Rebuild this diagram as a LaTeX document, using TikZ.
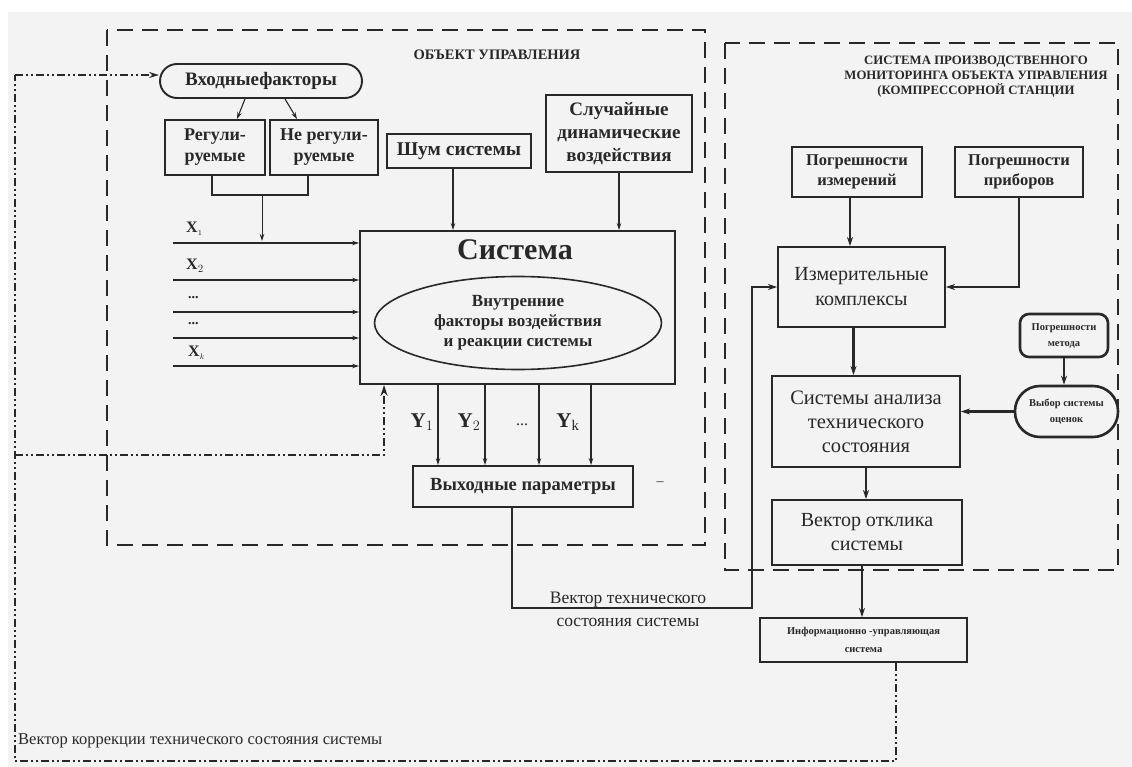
\documentclass[tikz,border=0pt]{standalone}
\usepackage{fontspec}
\setmainfont{Liberation Serif}
\usetikzlibrary{arrows.meta,calc,shapes.geometric}
\newcommand{\fsz}[2]{\fontsize{#1}{#2}\selectfont}
\definecolor{bg}{RGB}{243,243,243}
\definecolor{ink}{RGB}{40,40,40}
\begin{document}
\begin{tikzpicture}[x=1pt,y=-1pt,
  every node/.style={text=ink},
  box/.style={draw=ink, line width=1.9pt, align=center, inner sep=0pt, fill=bg},
  rbox/.style={box, rounded corners=9pt, line width=2.6pt},
  pill/.style={box, rounded corners=17pt},
  grp/.style={draw=ink, line width=2.8pt, dash pattern=on 16pt off 9pt},
  dd/.style={draw=ink, line width=2pt, dash pattern=on 8pt off 3pt on 2pt off 3pt on 2pt off 3pt},
  arr/.style={draw=ink, line width=1.1pt, -{Stealth[length=7pt,width=4.5pt]}},
  tarr/.style={draw=ink, line width=2.2pt, -{Stealth[length=9pt,width=6pt]}},
  lbl/.style={inner sep=0pt, align=center}
]
\useasboundingbox (0,0) rectangle (1132,767);
\fill[white] (0,0) rectangle (1132,767);
\fill[bg] (8,12) rectangle (1132,767);

% group frames
\path[grp] (107,30) rectangle (705,545);
\path[grp] (725,43) rectangle (1118,570);
\node[lbl, font=\bfseries\fsz{14.5}{16}] (t1) at (497,55) {ОБЪЕКТ УПРАВЛЕНИЯ};
\node[lbl, font=\bfseries\fsz{12.8}{15}] (t2) at (976,77) {СИСТЕМА ПРОИЗВОДСТВЕННОГО\\МОНИТОРИНГА ОБЪЕКТА УПРАВЛЕНИЯ\\(КОМПРЕССОРНОЙ СТАНЦИИ};

% left part
\node[pill, minimum width=202pt, minimum height=34pt, font=\bfseries\fsz{19}{22}] (vh) at (261,81) {Входныефакторы};
\node[box, minimum width=100pt, minimum height=55pt, font=\bfseries\fsz{18}{21}] (reg) at (215,147.5) {Регули-\\руемые};
\node[box, minimum width=108pt, minimum height=55pt, font=\bfseries\fsz{18}{21}] (nereg) at (324,147.5) {Не регули-\\руемые};
\node[box, minimum width=144pt, minimum height=34pt, font=\bfseries\fsz{19.5}{22}] (shum) at (459,151) {Шум системы};
\node[box, minimum width=146pt, minimum height=77pt, font=\bfseries\fsz{19}{23}] (sluch) at (619,133.5) {Случайные\\динамические\\воздействия};
\node[box, minimum width=315pt, minimum height=153pt] (sys) at (517.5,307.5) {};
\node[lbl, font=\bfseries\fsz{30}{34}] (systitle) at (515,250) {Система};
\node[draw=ink, line width=1.6pt, ellipse, minimum width=287pt, minimum height=93pt, inner sep=0pt, align=center, font=\bfseries\fsz{17}{20}] (ell) at (518,323) {Внутренние\\факторы воздействия\\и реакции системы};
\node[box, minimum width=220pt, minimum height=41pt, font=\bfseries\fsz{18.5}{21}] (out) at (523,486.5) {Выходные параметры};
\node[lbl, font=\fsz{14}{16}] (dash) at (660,484) {--};

\draw[arr] ([xshift=-16pt]vh.south) -- ([xshift=22pt]reg.north);
\draw[arr] ([xshift=24pt]vh.south) -- ([xshift=-27pt]nereg.north);
\coordinate (b1) at (262,195);
\coordinate (b2) at (262,241);
\draw[draw=ink, line width=1.3pt] ([xshift=-3pt]reg.south) |- (b1) -| ([xshift=-16pt]nereg.south);
\draw[arr, line width=0.8pt] (b1) -- (b2);

\foreach \n/\y in {1/243,2/280,3/312,4/338,5/366}{
  \coordinate (xs\n) at (173,\y);
  \draw[arr] (xs\n) -- (xs\n -| sys.west);
}
\node[lbl, font=\bfseries\fsz{16}{18}, anchor=west] (xl1) at (186,229) {X$_{\scriptscriptstyle 1}$};
\node[lbl, font=\bfseries\fsz{16}{18}, anchor=west] (xl2) at (186,266) {X$_{2}$};
\node[lbl, font=\bfseries\fsz{14}{16}, anchor=west] (xl3) at (188,298) {...};
\node[lbl, font=\bfseries\fsz{14}{16}, anchor=west] (xl4) at (188,324) {...};
\node[lbl, font=\bfseries\fsz{16}{18}, anchor=west] (xl5) at (188,353) {X$_{\scriptscriptstyle k}$};

\draw[arr] ([xshift=-6pt]shum.south) -- ([xshift=-6pt]shum.south |- sys.north);
\draw[arr] (sluch.south) -- (sluch.south |- sys.north);

\foreach \n/\x in {1/438,2/485,3/539,4/591}{
  \coordinate (ys\n) at (\x,384);
  \draw[arr] (ys\n) -- (ys\n |- out.north);
}
\node[lbl, font=\bfseries\fsz{21}{24}] (yl1) at (422,422) {Y$_{1}$};
\node[lbl, font=\bfseries\fsz{21}{24}] (yl2) at (469,422) {Y$_{2}$};
\node[lbl, font=\fsz{16}{18}] (yl3) at (522,425) {...};
\node[lbl, font=\bfseries\fsz{21}{24}] (yl4) at (568,422) {Y$_{\mathrm{k}}$};

% right part
\node[box, minimum width=130pt, minimum height=50pt, font=\bfseries\fsz{16.5}{20}] (pizm) at (857,172) {Погрешности\\измерений};
\node[box, minimum width=128pt, minimum height=50pt, font=\bfseries\fsz{16.5}{20}] (ppri) at (1019,172) {Погрешности\\приборов};
\node[box, minimum width=167pt, minimum height=80pt, font=\fsz{20}{25}] (izk) at (861.5,287) {Измерительные\\комплексы};
\node[box, minimum width=188pt, minimum height=91pt, font=\fsz{20.5}{24}] (san) at (866,421.5) {Системы анализа\\технического\\состояния};
\node[rbox, minimum width=88pt, minimum height=43pt, font=\bfseries\fsz{10.5}{16}] (pmet) at (1064,335.5) {Погрешности\\метода};
\node[box, line width=2.6pt, rounded corners=25pt, minimum width=103pt, minimum height=51pt, font=\bfseries\fsz{10.5}{16}] (vyb) at (1066.5,411.5) {Выбор системы\\оценок};
\node[box, minimum width=190pt, minimum height=65pt, font=\fsz{20}{24}] (vot) at (867,532.5) {Вектор отклика\\системы};
\node[box, minimum width=207pt, minimum height=44pt, font=\bfseries\fsz{10.5}{18}] (ius) at (863.5,640) {Информационно -управляющая\\система};

\draw[tarr] ([xshift=-7pt]pizm.south) -- ([xshift=-7pt]pizm.south |- izk.north);
\draw[tarr] (ppri.south) |- (izk.east);
\draw[tarr] ([xshift=-8pt]izk.south) -- ([xshift=-8pt]izk.south |- san.north);
\draw[tarr] (pmet.south) -- (pmet.south |- vyb.north);
\draw[tarr] (vyb.west) -- (vyb.west -| san.east);
\draw[tarr] (san.south) -- (san.south |- vot.north);
\draw[tarr] ([xshift=-5pt]vot.south) -- ([xshift=-5pt]vot.south |- ius.north);

% vector of technical state
\coordinate (vt) at (752,608);
\draw[tarr, line width=2.7pt] ([xshift=-11pt]out.south) |- (vt) |- (izk.west);
\node[lbl, font=\fsz{17.5}{23}] (vtl) at (628,609) {Вектор технического\\состояния системы};

% feedback (dash-dot)
\coordinate (c1) at (896,761);
\coordinate (c2) at (15,761);
\coordinate (c3) at (15,75);
\coordinate (c4) at (15,455);
\draw[dd] ([xshift=32.5pt]ius.south) -- (c1) -- (c2) -- (c3);
\draw[dd, -{Stealth[length=10pt,width=6pt]}] (c3) -- (c3 -| vh.west);
\draw[dd, -{Stealth[length=11pt,width=7pt]}] (c4) -| ([xshift=25pt]sys.south west);
\node[lbl, font=\fsz{16.5}{18}, anchor=west] (vkl) at (18,741) {Вектор коррекции технического состояния системы};
\end{tikzpicture}
\end{document}
